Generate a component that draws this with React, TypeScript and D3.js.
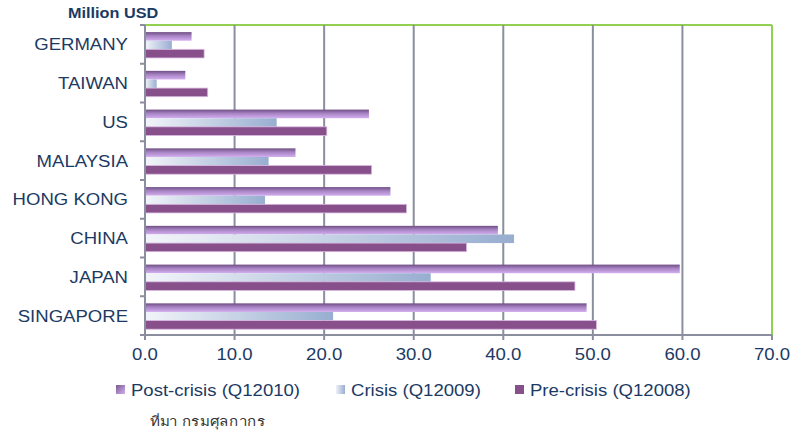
import React from 'react';
import * as d3 from 'd3';

const countries = ['GERMANY', 'TAIWAN', 'US', 'MALAYSIA', 'HONG KONG', 'CHINA', 'JAPAN', 'SINGAPORE'];
const postCrisis = [5.2, 4.5, 25.0, 16.8, 27.4, 39.4, 59.7, 49.3];
const crisis = [3.0, 1.3, 14.7, 13.8, 13.4, 41.2, 31.9, 21.0];
const preCrisis = [6.6, 7.0, 20.3, 25.3, 29.2, 35.9, 48.0, 50.4];
const xTicks = [0, 10, 20, 30, 40, 50, 60, 70];
const seriesNames = ['Post-crisis (Q12010)', 'Crisis (Q12009)', 'Pre-crisis (Q12008)'];

const W = 797;
const H = 432;
const left = 145;
const right = 772;
const top = 25;
const bottom = 335;
const navy = '#1b3a63';
const grid = '#8a8e9e';
const font = "'Liberation Sans', Arial, sans-serif";
const sx = 1.16; // the original text is stretched sideways

// text drawn with a horizontal stretch, anchored at (x, y)
const Wide = ({ x, y, anchor = 'start', size = 16, bold = false, fill = navy, family = font, children }: any) => (
  <text transform={`translate(${x},${y}) scale(${sx},1)`} textAnchor={anchor} fontFamily={family}
    fontSize={size} fontWeight={bold ? 'bold' : 'normal'} fill={fill}>{children}</text>
);

const App = () => {
  const x = d3.scaleLinear().domain([0, 70]).range([left, right]);
  const y = d3.scaleBand<string>().domain(countries).range([top, bottom]);
  const inner = d3.scaleBand<number>().domain([0, 1, 2]).range([0, y.bandwidth()]).paddingOuter(0.75).align(0.55);
  const series = [postCrisis, crisis, preCrisis];
  const fills = ['url(#gPost)', 'url(#gCrisis)', '#87508a'];
  const legendX = [116, 336, 515];
  const legendFill = ['url(#gLegPost)', 'url(#gLegCrisis)', '#87508a'];

  return (
    <svg width={W} height={H} style={{ position: 'absolute', left: 0, top: 0 }}>
      <defs>
        <linearGradient id="gPost" x1="0" y1="0" x2="0" y2="1">
          <stop offset="0" stopColor="#6f4f84" />
          <stop offset="0.45" stopColor="#a884c4" />
          <stop offset="1" stopColor="#d3aef0" />
        </linearGradient>
        <linearGradient id="gCrisis" x1="0" y1="0" x2="1" y2="0">
          <stop offset="0" stopColor="#f2f4f9" />
          <stop offset="1" stopColor="#98aed0" />
        </linearGradient>
        <linearGradient id="gLegPost" x1="0" y1="0" x2="1" y2="1">
          <stop offset="0" stopColor="#7a5a90" />
          <stop offset="1" stopColor="#d3aef0" />
        </linearGradient>
        <linearGradient id="gLegCrisis" x1="0" y1="0" x2="1" y2="0">
          <stop offset="0" stopColor="#eef1f8" />
          <stop offset="1" stopColor="#9aaed0" />
        </linearGradient>
      </defs>

      <Wide x={68} y={18} size={14} bold>Million USD</Wide>

      {/* green plot border */}
      <line x1={left} x2={right} y1={top} y2={top} stroke="#92d050" strokeWidth={2} />
      <line x1={right} x2={right} y1={top} y2={bottom} stroke="#92d050" strokeWidth={2} />

      {xTicks.slice(1, -1).map(t => (
        <line key={t} x1={x(t)} x2={x(t)} y1={top} y2={bottom} stroke={grid} strokeWidth={2} />
      ))}

      {countries.map((c, i) => (
        <g key={c} transform={`translate(0,${y(c)})`}>
          {series.map((s, k) => (
            <rect key={k} x={x(0)} y={inner(k)} width={x(s[i]) - x(0)} height={inner.bandwidth()}
              fill={fills[k]} stroke={k === 2 ? '#d8b8e0' : 'none'} strokeWidth={k === 2 ? 0.8 : 0} />
          ))}
          <Wide x={128} y={y.bandwidth() / 2 + 6} anchor="end">{c}</Wide>
        </g>
      ))}

      {/* axes */}
      <line x1={left} x2={left} y1={top} y2={bottom} stroke={grid} strokeWidth={2} />
      {[...countries.map(c => y(c) as number), bottom].map((v, i) => (
        <line key={i} x1={left - 5} x2={left} y1={v} y2={v} stroke={grid} strokeWidth={2} />
      ))}
      <line x1={left} x2={right} y1={bottom} y2={bottom} stroke={grid} strokeWidth={2} />
      {xTicks.map(t => (
        <g key={t}>
          <line x1={x(t)} x2={x(t)} y1={bottom} y2={bottom + 5} stroke={grid} strokeWidth={2} />
          <Wide x={x(t)} y={360} anchor="middle">{t.toFixed(1)}</Wide>
        </g>
      ))}

      {/* legend */}
      {seriesNames.map((n, k) => (
        <g key={n}>
          <rect x={legendX[k]} y={385} width={9} height={9} fill={legendFill[k]} />
          <Wide x={legendX[k] + 15} y={396}>{n}</Wide>
        </g>
      ))}

      <Wide x={150} y={426} size={13} fill="#333" family="'Noto Sans', sans-serif">ที่มา กรมศุลกากร</Wide>
    </svg>
  );
};

export default App;
